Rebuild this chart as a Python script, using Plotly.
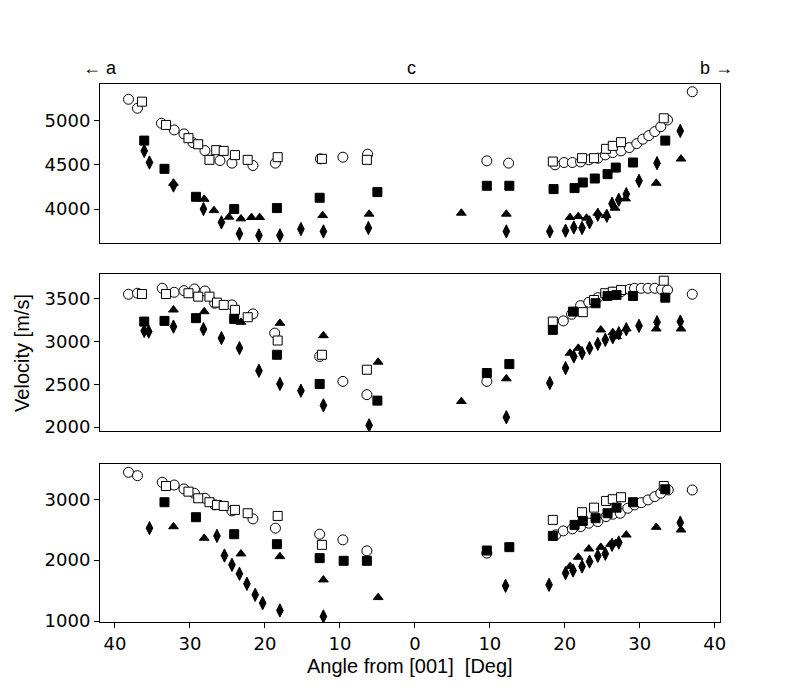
import plotly.graph_objects as go

# Angles: negative = towards a, positive = towards b (tick labels show |angle|)
# ---------------- Panel 1 ----------------
p1_circ_x = [-38.2, -37.0, -33.8, -32.1, -30.8, -29.6, -28.0, -26.0, -24.4, -21.6, -18.6, -12.6, -9.6, -6.3,
             9.6, 12.5, 18.7, 19.9, 21.0, 22.1, 23.2, 24.4, 25.4, 26.4, 27.5, 28.6, 29.6, 30.4, 31.2, 32.0, 32.8, 33.7, 37.0]
p1_circ_y = [5236, 5135, 4966, 4891, 4846, 4748, 4658, 4546, 4517, 4490, 4517, 4565, 4584, 4618,
             4543, 4517, 4498, 4524, 4524, 4531, 4554, 4573, 4610, 4636, 4655, 4692, 4737, 4787, 4827, 4872, 4928, 5003, 5321]
p1_osq_x = [-36.4, -33.2, -30.2, -28.9, -27.4, -26.5, -25.5, -24.0, -22.3, -18.3, -12.4, -6.4,
            18.4, 22.3, 23.9, 25.5, 26.4, 27.5, 33.2]
p1_osq_y = [5209, 4947, 4798, 4730, 4554, 4663, 4655, 4607, 4554, 4584, 4565, 4554,
            4535, 4573, 4573, 4678, 4711, 4753, 5022]
p1_fsq_x = [-36.1, -33.4, -29.2, -24.1, -18.4, -12.7, -5.0,
            9.6, 12.6, 18.5, 21.3, 22.4, 24.0, 25.7, 26.8, 29.1, 33.4]
p1_fsq_y = [4771, 4453, 4138, 4000, 4011, 4127, 4191,
            4262, 4262, 4225, 4236, 4299, 4344, 4393, 4467, 4524, 4771]
p1_tri_x = [-32.2, -28.1, -26.8, -24.8, -23.2, -21.8, -20.7, -12.3, -6.1,
            6.2, 12.2, 20.7, 21.8, 22.9, 24.4, 25.5, 26.7, 28.1, 32.2, 35.5]
p1_tri_y = [4292, 4112, 3984, 3910, 3891, 3906, 3906, 3928, 3944,
            3955, 3944, 3906, 3917, 3899, 3955, 3928, 4011, 4116, 4292, 4565]
p1_dia_x = [-36.1, -35.4, -32.2, -28.2, -25.8, -23.4, -20.8, -18.0, -15.2, -12.2, -6.2,
            12.2, 18.0, 20.1, 21.2, 22.3, 23.3, 24.4, 25.6, 26.3, 27.2, 28.2, 29.9, 32.3, 35.4]
p1_dia_y = [4655, 4524, 4265, 4000, 3850, 3722, 3703, 3703, 3775, 3748, 3787,
            3748, 3748, 3756, 3793, 3787, 3850, 3936, 3924, 4060, 4105, 4168, 4318, 4517, 4880]

# ---------------- Panel 2 ----------------
p2_circ_x = [-38.2, -37.0, -33.7, -32.1, -30.8, -29.4, -28.0, -26.7, -24.4, -21.6, -18.7, -12.7, -9.6, -6.4,
             9.6, 19.8, 20.9, 22.1, 23.2, 24.4, 25.4, 26.4, 27.5, 28.6, 29.3, 30.2, 31.1, 32.0, 32.9, 33.7, 37.0]
p2_circ_y = [3555, 3567, 3625, 3578, 3597, 3617, 3593, 3450, 3430, 3325, 3100, 2826, 2534, 2379,
             2534, 3243, 3321, 3422, 3461, 3515, 3555, 3578, 3585, 3613, 3625, 3625, 3625, 3625, 3613, 3605, 3555]
p2_osq_x = [-36.4, -33.2, -30.2, -28.9, -27.4, -26.4, -25.5, -24.0, -22.3, -18.3, -12.4, -6.4,
            18.4, 22.4, 23.9, 25.4, 26.4, 27.5, 33.2]
p2_osq_y = [3558, 3558, 3567, 3527, 3527, 3457, 3430, 3372, 3286, 3013, 2846, 2671,
            3235, 3345, 3488, 3567, 3585, 3605, 3714]
p2_fsq_x = [-36.1, -33.4, -29.2, -24.1, -18.4, -12.7, -5.0,
            9.6, 12.6, 18.4, 21.1, 24.1, 25.7, 26.9, 29.1, 33.4]
p2_fsq_y = [3235, 3243, 3275, 3266, 2846, 2504, 2309,
            2632, 2737, 3138, 3352, 3450, 3535, 3547, 3535, 3515]
p2_tri_x = [-32.2, -28.1, -23.2, -18.0, -12.2, -4.9,
            6.2, 12.2, 20.7, 21.8, 24.8, 26.4, 26.9, 28.2, 32.2, 35.5]
p2_tri_y = [3372, 3352, 3228, 3216, 3071, 2761,
            2300, 2566, 2866, 2924, 3138, 3106, 3060, 3150, 3150, 3150]
p2_dia_x = [-36.1, -35.5, -32.2, -28.2, -25.8, -23.4, -20.8, -18.0, -15.2, -12.2, -6.1,
            12.2, 18.0, 20.1, 21.2, 22.3, 23.3, 24.4, 25.4, 26.4, 27.2, 28.2, 29.9, 32.3, 35.4]
p2_dia_y = [3126, 3118, 3176, 3146, 3041, 2924, 2659, 2504, 2425, 2254, 2020,
            2114, 2515, 2690, 2826, 2866, 2924, 2974, 3021, 3052, 3099, 3146, 3185, 3228, 3235]

# ---------------- Panel 3 ----------------
p3_circ_x = [-38.2, -37.0, -33.7, -32.1, -30.8, -29.4, -28.0, -26.7, -24.4, -21.6, -18.6, -12.7, -9.6, -6.4,
             9.6, 18.8, 19.8, 21.0, 22.1, 23.2, 24.4, 25.5, 26.4, 27.4, 28.4, 29.3, 30.2, 31.1, 32.0, 32.8, 33.8, 37.0]
p3_circ_y = [3443, 3387, 3279, 3234, 3169, 3098, 3016, 2907, 2808, 2677, 2525, 2426, 2333, 2153,
             2115, 2415, 2480, 2513, 2551, 2607, 2633, 2715, 2754, 2770, 2852, 2907, 2944, 2989, 3043, 3098, 3152, 3152]
p3_osq_x = [-33.2, -30.2, -28.9, -27.4, -26.4, -25.5, -24.0, -22.3, -18.3, -12.4,
            18.4, 22.3, 23.9, 25.5, 26.4, 27.5, 33.2]
p3_osq_y = [3218, 3125, 3016, 2951, 2907, 2890, 2825, 2770, 2726, 2251,
            2661, 2787, 2862, 2972, 3000, 3033, 3218]
p3_fsq_x = [-33.4, -29.2, -24.1, -18.4, -12.7, -9.5, -6.4,
            9.6, 12.6, 18.4, 21.3, 22.4, 24.1, 25.7, 26.9, 29.1, 33.4]
p3_fsq_y = [2951, 2705, 2426, 2262, 2033, 1989, 1989,
            2158, 2213, 2398, 2579, 2644, 2689, 2770, 2862, 2951, 3164]
p3_tri_x = [-32.2, -28.1, -23.2, -18.0, -12.2, -4.9,
            20.7, 21.8, 23.2, 24.8, 26.1, 26.8, 28.2, 32.2, 35.5]
p3_tri_y = [2551, 2361, 2104, 2060, 1677, 1387,
            1896, 2049, 2185, 2213, 2262, 2279, 2415, 2541, 2497]
p3_dia_x = [-35.4, -26.4, -25.4, -24.4, -23.4, -22.4, -21.3, -20.3, -18.0, -12.2,
            12.1, 17.9, 20.1, 21.1, 22.3, 23.3, 24.4, 25.4, 26.3, 27.2, 35.4]
p3_dia_y = [2525, 2398, 2076, 1923, 1776, 1612, 1431, 1295, 1174, 1076,
            1579, 1595, 1787, 1830, 1896, 1977, 2071, 2104, 2251, 2289, 2616]

x_tickvals = [-40, -30, -20, -10, 0, 10, 20, 30, 40]
x_ticktext = ["40", "30", "20", "10", "0", "10", "20", "30", "40"]

p1_yticks = [4000, 4500, 5000]
p2_yticks = [2000, 2500, 3000, 3500]
p3_yticks = [1000, 2000, 3000]

panels = [
    (p1_circ_x, p1_circ_y, p1_osq_x, p1_osq_y, p1_fsq_x, p1_fsq_y, p1_tri_x, p1_tri_y, p1_dia_x, p1_dia_y),
    (p2_circ_x, p2_circ_y, p2_osq_x, p2_osq_y, p2_fsq_x, p2_fsq_y, p2_tri_x, p2_tri_y, p2_dia_x, p2_dia_y),
    (p3_circ_x, p3_circ_y, p3_osq_x, p3_osq_y, p3_fsq_x, p3_fsq_y, p3_tri_x, p3_tri_y, p3_dia_x, p3_dia_y),
]

fig = go.Figure()
for i, p in enumerate(panels):
    xa = "x" if i == 0 else f"x{i+1}"
    ya = "y" if i == 0 else f"y{i+1}"
    styles = [
        ("circle", "white", 10),
        ("square", "white", 9),
        ("square", "black", 9),
        ("triangle-up", "black", 8.5),
        ("diamond-tall", "black", 9.5),
    ]
    for k, (sym, col, sz) in enumerate(styles):
        fig.add_trace(go.Scatter(
            x=p[2 * k], y=p[2 * k + 1], mode="markers", xaxis=xa, yaxis=ya, showlegend=False,
            marker=dict(symbol=sym, color=col, size=sz, line=dict(color="black", width=1)),
        ))

xr = [-42.0, 40.7]
tickfont = dict(family="DejaVu Sans", size=18, color="black")
common_x = dict(range=xr, showline=True, linecolor="black", linewidth=1, mirror=True,
                showgrid=False, zeroline=False, tickvals=x_tickvals, ticktext=x_ticktext,
                tickfont=tickfont, automargin=False)
common_y = dict(showline=True, linecolor="black", linewidth=1, mirror=True, showgrid=False,
                zeroline=False, ticks="outside", ticklen=5, tickcolor="black", tickfont=tickfont,
                automargin=False)

# the page body adds an 8 px offset; margins compensate so the plot area lands at x 100-720, y 84-622
fig.update_layout(
    width=800, height=700,
    margin=dict(l=92, r=88, t=76, b=86, autoexpand=False),
    paper_bgcolor="white", plot_bgcolor="white",
    xaxis=dict(**common_x, domain=[0, 1], anchor="y", showticklabels=False, ticks=""),
    xaxis2=dict(**common_x, domain=[0, 1], anchor="y2", showticklabels=False, ticks=""),
    xaxis3=dict(**common_x, domain=[0, 1], anchor="y3", ticks="outside", ticklen=5, tickcolor="black"),
    yaxis=dict(**common_y, domain=[0.7045, 1.0], range=[3618, 5408], tickvals=p1_yticks, anchor="x"),
    yaxis2=dict(**common_y, domain=[0.355, 0.6468], range=[1953, 3792], tickvals=p2_yticks, anchor="x2"),
    yaxis3=dict(**common_y, domain=[0.0, 0.2937], range=[984, 3579], tickvals=p3_yticks, anchor="x3"),
    annotations=[
        dict(text="Velocity [m/s]", xref="paper", yref="paper", x=-0.126, y=0.5, textangle=-90,
             showarrow=False, xanchor="center", yanchor="middle",
             font=dict(family="Liberation Sans", size=20, color="black")),
        dict(text="Angle from [001]  [Deg]", xref="paper", yref="paper", x=0.5, y=-0.081,
             showarrow=False, xanchor="center", yanchor="middle",
             font=dict(family="Liberation Sans", size=20, color="black")),
        dict(text="\u2190 a", xref="paper", yref="paper", x=0.0, y=1.030, showarrow=False,
             xanchor="center", yanchor="middle", font=dict(family="Liberation Sans", size=18, color="black")),
        dict(text="c", xref="paper", yref="paper", x=0.503, y=1.030, showarrow=False,
             xanchor="center", yanchor="middle", font=dict(family="Liberation Sans", size=18, color="black")),
        dict(text="b \u2192", xref="paper", yref="paper", x=0.995, y=1.030, showarrow=False,
             xanchor="center", yanchor="middle", font=dict(family="Liberation Sans", size=18, color="black")),
    ],
)

fig.write_html("out.html")
